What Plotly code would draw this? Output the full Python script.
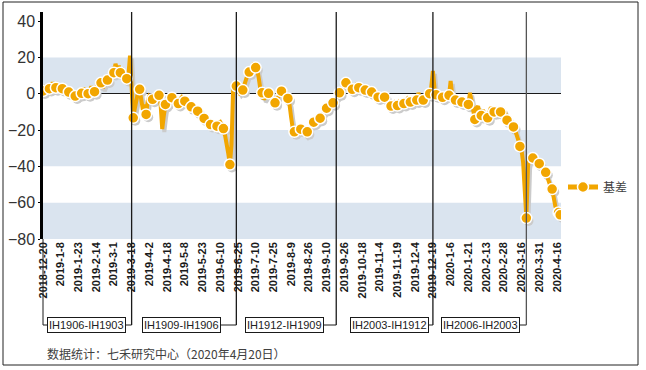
import plotly.graph_objects as go

# ---------------- data ----------------
series_name = "基差"
basis = [
    1.5, 4.5, 3.0, 5.0, 2.8, 4.0, 6.0, 4.5, 3.3, 5.0,
    4.0, 3.5, 2.8, 4.0, 2.0, 1.0, 0.9, 2.5, -1.5, -2.0,
    -1.3, 1.0, -2.5, 0.5, 0.2, 3.0, 2.0, -0.5, 0.0, 2.5,
    4.0, 2.0, 1.1, 3.5, 5.5, 4.0, 6.0, 3.0, 5.0, 8.5,
    7.5, 10.0, 12.0, 13.0, 11.6, 16.5, 13.0, 15.5, 11.6, 14.0,
    12.0, 9.0, 8.3, 10.0, 21.0, 6.0, -13.3, -8.0, -2.0, 1.0,
    2.4, -2.0, -9.0, -6.0, -11.4, -4.0, -1.5, -2.5, -3.1, -1.5,
    -3.0, -1.0, -0.9, -6.0, -19.5, -12.0, -5.9, -4.0, -6.5, -3.0,
    -2.2, -3.5, -2.0, -4.5, -5.4, -3.0, -2.0, -3.5, -4.1, -5.0,
    -4.0, -6.0, -7.2, -7.0, -8.5, -9.0, -9.6, -11.0, -12.0, -12.5,
    -13.6, -15.0, -16.5, -16.0, -17.0, -16.0, -18.0, -17.0, -17.9, -16.0,
    -15.5, -17.0, -19.2, -23.0, -27.0, -33.0, -39.0, -28.0, 2.0, 5.0,
    4.2, 2.0, 0.5, 1.5, 2.0, 5.0, 9.0, 10.5, 11.9, 12.5,
    15.0, 17.0, 14.4, 13.0, 8.0, 2.0, 0.5, -3.0, -2.0, 0.5,
    0.2, -1.5, -3.0, -4.0, -5.0, -3.5, -1.0, 0.5, 1.4, 2.0,
    0.0, -1.5, -2.6, -6.0, -13.0, -19.0, -21.0, -20.0, -19.0, -20.5,
    -19.5, -20.5, -22.0, -22.5, -21.0, -19.5, -18.0, -17.0, -15.7, -15.5,
    -14.0, -15.0, -13.5, -12.0, -11.0, -9.5, -8.0, -7.0, -6.5, -5.5,
    -5.0, -4.0, -3.0, -1.5, 0.5, 2.0, 4.0, 5.5, 6.0, 5.0,
    3.5, 2.5, 2.4, 3.5, 4.5, 3.0, 3.3, 2.5, 1.5, 2.5,
    2.0, 1.0, 0.5, 1.5, 0.9, 0.0, -1.0, -1.5, -1.9, -1.0,
    -0.5, -1.5, -1.9, -3.0, -5.0, -6.0, -6.8, -5.5, -5.0, -6.5,
    -6.5, -4.5, -5.0, -6.0, -5.4, -4.0, -3.0, -4.5, -4.6, -3.0,
    -4.0, -2.5, -3.5, 0.5, -3.0, -2.0, -3.5, -2.5, -1.5, -0.5,
    0.0, 4.0, 12.5, 3.0, -0.6, -1.5, -2.0, -1.0, -2.0, -1.5,
    -0.5, -1.0, -0.9, 7.0, -1.0, -3.0, -3.5, -2.5, -3.0, -4.0,
    -4.6, -4.0, -5.0, -5.5, -5.9, 0.5, -4.0, -10.0, -14.2, -8.0,
    -7.0, -10.0, -12.0, -9.0, -11.0, -12.5, -13.3, -10.0, -7.5, -9.0,
    -10.0, -9.0, -11.0, -10.5, -10.0, -8.5, -9.0, -11.0, -14.6, -15.0,
    -16.0, -17.0, -18.3, -20.0, -23.0, -26.0, -29.0, -31.0, -38.0, -50.0,
    -68.5, -40.0, -34.0, -35.0, -35.4, -36.5, -38.0, -39.0, -38.5, -40.0,
    -41.5, -42.0, -43.3, -46.0, -49.0, -51.0, -52.5, -58.0, -62.0, -64.0,
    -65.4, -66.7,
]
tick_labels = [
    "2018-12-20", "2019-1-8", "2019-1-23", "2019-2-14", "2019-3-1", "2019-3-18",
    "2019-4-2", "2019-4-18", "2019-5-8", "2019-5-23", "2019-6-10", "2019-6-25",
    "2019-7-10", "2019-7-25", "2019-8-9", "2019-8-26", "2019-9-10", "2019-9-26",
    "2019-10-18", "2019-11-4", "2019-11-19", "2019-12-4", "2019-12-19", "2020-1-6",
    "2020-1-21", "2020-2-13", "2020-2-28", "2020-3-16", "2020-3-31", "2020-4-16",
]
tick_step = 11                       # trading days between labels
rollover_idx = [55, 120, 182, 242, 300]
spread_labels = ["IH1906-IH1903", "IH1909-IH1906", "IH1912-IH1909",
                 "IH2003-IH1912", "IH2006-IH2003"]
y_ticks = [40, 20, 0, -20, -40, -60, -80]
band_ranges = [(0, 20), (-40, -20), (-80, -60)]
source_note = "数据统计：七禾研究中心（2020年4月20日）"

# ---------------- style / layout ----------------
W, H = 646, 370
ML, MR, MT, MB = 43, 85, 12, 131
PW, PH = W - ML - MR, H - MT - MB
XR = [0, 321.5]
YR = [-80, 45]
ORANGE = "#f2a600"
SHADOW = "#cbcbcb"
BAND = "#dae4ef"
marker_step = 4
shadow_dx, shadow_dy = 1.3, 1.6
box_px = [86, 181, 284, 389, 480]    # box centres (pixels)
conn_py = 325                         # connector row (pixels)


def px_x(px):
    return (px - ML) / PW


def px_y(py):
    return (H - MB - py) / PH


def px_to_idx(px):
    return (px - ML) / PW * (XR[1] - XR[0]) + XR[0]


idx = list(range(len(basis)))
mk_idx = [i for i in idx if i % marker_step == 0 or i == len(basis) - 1]
mk_val = [basis[i] for i in mk_idx]

fig = go.Figure()
# shadow
fig.add_trace(go.Scatter(x=[i + shadow_dx for i in idx], y=[v - shadow_dy for v in basis],
                         mode="lines", line=dict(color=SHADOW, width=4),
                         hoverinfo="skip", showlegend=False))
fig.add_trace(go.Scatter(x=[i + shadow_dx for i in mk_idx], y=[v - shadow_dy for v in mk_val],
                         mode="markers", marker=dict(color=SHADOW, size=10),
                         hoverinfo="skip", showlegend=False))
# main line
fig.add_trace(go.Scatter(x=idx, y=basis, mode="lines",
                         line=dict(color=ORANGE, width=4), showlegend=False))
fig.add_trace(go.Scatter(x=mk_idx, y=mk_val, mode="markers",
                         marker=dict(color=ORANGE, size=11, line=dict(color="white", width=1.5)),
                         showlegend=False))
# legend entry
fig.add_trace(go.Scatter(x=[None], y=[None], mode="lines+markers", name=series_name,
                         line=dict(color=ORANGE, width=5),
                         marker=dict(color=ORANGE, size=11, line=dict(color="white", width=1.5))))

shapes = []
for lo, hi in band_ranges:
    shapes.append(dict(type="rect", xref="paper", yref="y", x0=0, x1=1, y0=lo, y1=hi,
                       fillcolor=BAND, line=dict(width=0), layer="below"))
cy = px_y(conn_py)
for k, r in enumerate(rollover_idx):
    col = "#555555" if k == len(rollover_idx) - 1 else "#1a1a1a"
    shapes.append(dict(type="line", xref="x", yref="paper", x0=r, x1=r, y0=cy, y1=1,
                       line=dict(color=col, width=1.3), layer="above"))
    start = 0 if k == 0 else px_to_idx(box_px[k])
    shapes.append(dict(type="line", xref="x", yref="paper", x0=start, x1=r, y0=cy, y1=cy,
                       line=dict(color="#1a1a1a", width=1), layer="below"))
# axis extension down to first box
shapes.append(dict(type="line", xref="paper", yref="paper", x0=0, x1=0, y0=cy, y1=0,
                   line=dict(color="#1a1a1a", width=1), layer="above"))
# outer frame
shapes.append(dict(type="rect", xref="paper", yref="paper",
                   x0=px_x(3), x1=px_x(638), y0=px_y(365), y1=px_y(2),
                   line=dict(color="#222222", width=1), fillcolor="rgba(0,0,0,0)", layer="above"))

annotations = []
for k, lab in enumerate(spread_labels):
    annotations.append(dict(x=px_to_idx(box_px[k]), xref="x", y=cy, yref="paper",
                            text=lab, showarrow=False, xanchor="center", yanchor="middle",
                            font=dict(family="Liberation Sans, Arial", size=11, color="#222222"),
                            bordercolor="#1a1a1a", borderwidth=1, borderpad=1, bgcolor="white"))
annotations.append(dict(x=px_x(45), xref="paper", y=px_y(353), yref="paper", text=source_note,
                        showarrow=False, xanchor="left", yanchor="middle",
                        font=dict(family="Noto Sans CJK SC", size=12, color="#404040")))

fig.update_layout(
    width=W, height=H,
    margin=dict(l=ML, r=MR, t=MT, b=MB, autoexpand=False),
    paper_bgcolor="white", plot_bgcolor="rgba(0,0,0,0)",
    shapes=shapes, annotations=annotations,
    showlegend=True,
    legend=dict(x=px_x(563), xanchor="left", y=px_y(187), yanchor="middle",
                font=dict(family="Noto Sans CJK SC", size=12, color="#404040"),
                bgcolor="rgba(0,0,0,0)", borderwidth=0),
    xaxis=dict(range=XR, tickmode="array", automargin=False,
               tickvals=[k * tick_step for k in range(len(tick_labels))],
               ticktext=tick_labels, tickangle=-90, showgrid=False, zeroline=False,
               showline=False, ticks="",
               tickfont=dict(family="Liberation Sans, Arial", size=11, color="#1a1a1a",
                             weight="bold")),
    yaxis=dict(range=YR, tickmode="array", tickvals=y_ticks, automargin=False,
               showgrid=False, zeroline=True, zerolinecolor="#1a1a1a", zerolinewidth=1,
               showline=True, linecolor="black", linewidth=2.5,
               ticks="outside", ticklen=2, tickcolor="black",
               tickfont=dict(family="Liberation Sans, Arial", size=16, color="#333333")),
)

fig.write_html("out.html", config={"displayModeBar": False},
               post_script="document.body.style.margin='0px';")
